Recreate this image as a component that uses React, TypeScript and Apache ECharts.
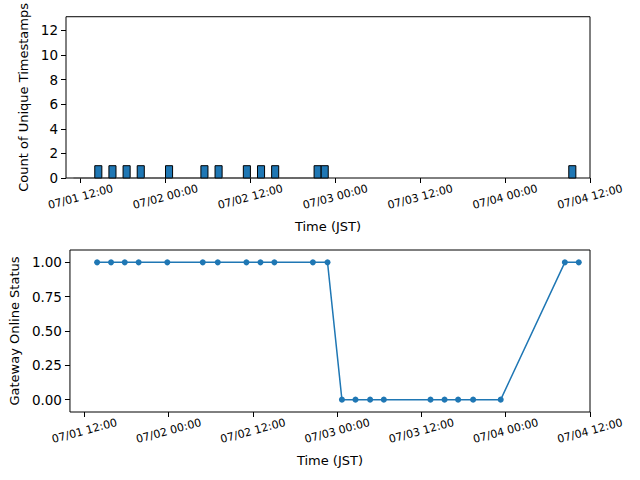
import React, { useEffect, useRef } from "react";
import * as echarts from "echarts";

// Hourly histogram bins (start of each 1-hour bin, JST) and counts of unique timestamps
const histBinStarts = [
  "07/01 11:00", "07/01 12:00", "07/01 13:00", "07/01 14:00", "07/01 15:00", "07/01 16:00",
  "07/01 17:00", "07/01 18:00", "07/01 19:00", "07/01 20:00", "07/01 21:00", "07/01 22:00",
  "07/01 23:00", "07/02 00:00", "07/02 01:00", "07/02 02:00", "07/02 03:00", "07/02 04:00",
  "07/02 05:00", "07/02 06:00", "07/02 07:00", "07/02 08:00", "07/02 09:00", "07/02 10:00",
  "07/02 11:00", "07/02 12:00", "07/02 13:00", "07/02 14:00", "07/02 15:00", "07/02 16:00",
  "07/02 17:00", "07/02 18:00", "07/02 19:00", "07/02 20:00", "07/02 21:00", "07/02 22:00",
  "07/04 09:00",
];
const histCounts = [
  0, 0, 0, 1, 0, 1,
  0, 1, 0, 1, 0, 0,
  0, 1, 0, 0, 0, 0,
  1, 0, 1, 0, 0, 0,
  1, 0, 1, 0, 1, 0,
  0, 0, 0, 0, 1, 1,
  1,
];

// Gateway online status samples (JST)
const statusTimes = [
  "07/01 13:48", "07/01 15:47", "07/01 17:44", "07/01 19:43", "07/01 23:48",
  "07/02 04:51", "07/02 06:59", "07/02 11:04", "07/02 13:04", "07/02 15:03",
  "07/02 20:32", "07/02 22:37", "07/03 00:40", "07/03 02:36", "07/03 04:41",
  "07/03 06:38", "07/03 13:17", "07/03 15:17", "07/03 17:13", "07/03 19:21",
  "07/03 23:17", "07/04 08:25", "07/04 10:24",
];
const statusValues = [1, 1, 1, 1, 1, 1, 1, 1, 1, 1, 1, 1, 0, 0, 0, 0, 0, 0, 0, 0, 0, 1, 1];

// Axis ticks
const xTickLabels = [
  "07/01 12:00", "07/02 00:00", "07/02 12:00", "07/03 00:00",
  "07/03 12:00", "07/04 00:00", "07/04 12:00",
];
const countTicks = [0, 2, 4, 6, 8, 10, 12];
const statusTicks = [0, 0.25, 0.5, 0.75, 1.0];

const YEAR = 2025;
const HOUR = 3600 * 1000;

function toMs(s: string): number {
  const [d, t] = s.split(" ");
  const [mo, da] = d.split("/").map(Number);
  const [h, mi] = t.split(":").map(Number);
  return Date.UTC(YEAR, mo - 1, da, h, mi);
}

function fmt(ms: number): string {
  const d = new Date(ms);
  const p = (n: number) => String(n).padStart(2, "0");
  return `${p(d.getUTCMonth() + 1)}/${p(d.getUTCDate())} ${p(d.getUTCHours())}:${p(d.getUTCMinutes())}`;
}

const FONT = "DejaVu Sans";
const BLUE = "#1f77b4";
const X_MIN = toMs("07/01 09:56");
const X_MAX = toMs("07/04 12:00");
const xTicks = xTickLabels.map(toMs);

function xAxisFor(gridIndex: number) {
  return {
    type: "value" as const,
    gridIndex,
    min: X_MIN,
    max: X_MAX,
    name: "Time (JST)",
    nameLocation: "middle" as const,
    nameGap: 42,
    nameTextStyle: { fontFamily: FONT, fontSize: 13, color: "#000" },
    axisLine: { show: false, onZero: false },
    splitLine: { show: false },
    axisTick: {
      show: true,
      length: 5,
      inside: false,
      customValues: xTicks,
      lineStyle: { color: "#000", width: 1 },
    },
    axisLabel: {
      customValues: xTicks,
      rotate: 15,
      align: "center",
      verticalAlign: "middle",
      margin: 19,
      fontFamily: FONT,
      fontSize: 11,
      color: "#000",
      formatter: (v: number) => fmt(v),
    },
  };
}

export default function App() {
  const ref = useRef<HTMLDivElement>(null);

  useEffect(() => {
    if (!ref.current) return;
    const chart = echarts.init(ref.current, null, { renderer: "svg" });

    const histData = histBinStarts.map((s, i) => {
      const start = toMs(s);
      return [start, start + HOUR, histCounts[i]];
    });
    const statusData = statusTimes.map((s, i) => [toMs(s), statusValues[i]]);

    chart.setOption({
      animation: false,
      backgroundColor: "#fff",
      grid: [
        { left: 66, right: 50, top: 15, height: 163, show: true, borderColor: "#000", borderWidth: 1, backgroundColor: "transparent" },
        { left: 66, right: 50, top: 250, height: 162, show: true, borderColor: "#000", borderWidth: 1, backgroundColor: "transparent" },
      ],
      xAxis: [xAxisFor(0), xAxisFor(1)],
      yAxis: [
        {
          type: "value",
          gridIndex: 0,
          min: 0,
          max: 13.1,
          name: "Count of Unique Timestamps",
          nameLocation: "middle",
          nameGap: 34,
          nameTextStyle: { fontFamily: FONT, fontSize: 13, color: "#000" },
          axisLine: { show: false, onZero: false },
          splitLine: { show: false },
          axisTick: { show: true, length: 5, customValues: countTicks, lineStyle: { color: "#000" } },
          axisLabel: { customValues: countTicks, margin: 8, fontFamily: FONT, fontSize: 13.5, color: "#000" },
        },
        {
          type: "value",
          gridIndex: 1,
          min: -0.09,
          max: 1.09,
          name: "Gateway Online Status",
          nameLocation: "middle",
          nameGap: 47,
          nameTextStyle: { fontFamily: FONT, fontSize: 13, color: "#000" },
          axisLine: { show: false, onZero: false },
          splitLine: { show: false },
          axisTick: { show: true, length: 5, customValues: statusTicks, lineStyle: { color: "#000" } },
          axisLabel: {
            customValues: statusTicks,
            margin: 8,
            fontFamily: FONT,
            fontSize: 13.5,
            color: "#000",
            formatter: (v: number) => v.toFixed(2),
          },
        },
      ],
      series: [
        {
          type: "custom",
          xAxisIndex: 0,
          yAxisIndex: 0,
          data: histData,
          encode: { x: [0, 1], y: 2 },
          renderItem: (params: any, api: any) => {
            const p0 = api.coord([api.value(0), 0]);
            const p1 = api.coord([api.value(1), api.value(2)]);
            const empty = api.value(2) === 0;
            return {
              type: "rect",
              shape: { x: p0[0], y: p1[1], width: p1[0] - p0[0], height: p0[1] - p1[1] },
              style: { fill: BLUE, stroke: empty ? "#555" : "#000", lineWidth: empty ? 0.6 : 1 },
            };
          },
        },
        {
          type: "line",
          xAxisIndex: 1,
          yAxisIndex: 1,
          data: statusData,
          symbol: "circle",
          symbolSize: 6,
          showSymbol: true,
          itemStyle: { color: BLUE },
          lineStyle: { color: BLUE, width: 1.5 },
        },
      ],
    });

    return () => chart.dispose();
  }, []);

  return (
    <div
      ref={ref}
      style={{ position: "fixed", left: 0, top: 0, width: 640, height: 480 }}
    />
  );
}
